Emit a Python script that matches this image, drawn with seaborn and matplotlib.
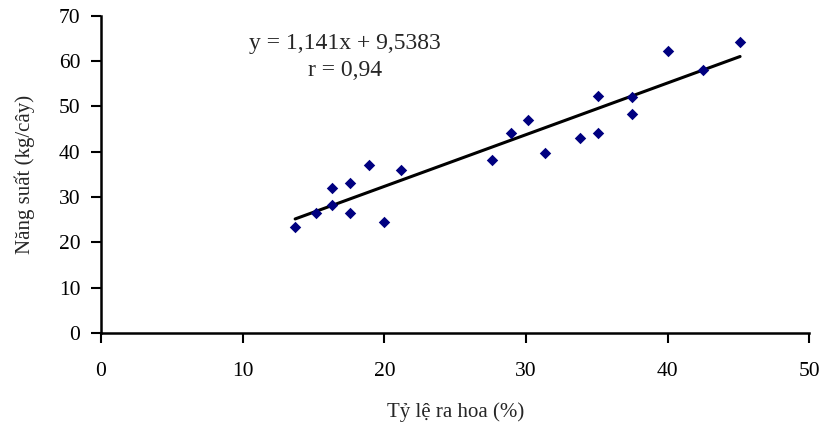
import matplotlib
matplotlib.use("Agg")
import matplotlib.pyplot as plt
import seaborn as sns
import numpy as np
import pandas as pd

# Data
flower_rate = [13.7, 15.2, 16.3, 16.3, 17.6, 17.6, 18.9, 20.0, 21.2,
               27.6, 28.9, 30.1, 31.3, 33.8, 35.1, 35.1, 37.5, 37.5,
               40.0, 42.5, 45.1]
yield_kg = [23.4, 26.5, 32.0, 28.3, 33.1, 26.5, 37.1, 24.5, 36.0,
            38.2, 44.1, 47.0, 39.7, 43.0, 52.3, 44.1, 52.1, 48.3,
            62.2, 58.0, 64.3]
slope = 1.141
intercept = 9.5383
eq_label = "y = 1,141x + 9,5383"
r_label = "r = 0,94"
x_ticks = [0, 10, 20, 30, 40, 50]
y_ticks = [0, 10, 20, 30, 40, 50, 60, 70]
x_title = "Tỷ lệ ra hoa (%)"
y_title = "Năng suất (kg/cây)"

df = pd.DataFrame({"x": flower_rate, "y": yield_kg})
x_line = np.array([min(flower_rate), max(flower_rate)])
line_df = pd.DataFrame({"x": x_line, "y": slope * x_line + intercept})

sns.set_style("ticks")
plt.rcParams['font.family'] = ['Liberation Serif', 'DejaVu Serif']

fig = plt.figure(figsize=(8.24, 4.32), dpi=100)
ax = fig.add_axes([0.1226, 0.229, 0.8598, 0.7347])

sns.lineplot(data=line_df, x="x", y="y", color="black", linewidth=2.2, ax=ax)
sns.scatterplot(data=df, x="x", y="y", marker="D", s=34, color="#000080",
                edgecolor="#000080", linewidth=0, ax=ax, zorder=3)

ax.set_xlim(0, 50)
ax.set_ylim(0, 70)
ax.set_xticks(x_ticks)
ax.set_yticks(y_ticks)
ax.tick_params(axis="both", labelsize=15.5, width=1.5, length=7, color="black",
               labelcolor="black")
ax.tick_params(axis="x", pad=14)
ax.tick_params(axis="y", pad=8)
for sp in ["left", "bottom"]:
    ax.spines[sp].set_linewidth(1.8)
    ax.spines[sp].set_color("black")
for sp in ["top", "right"]:
    ax.spines[sp].set_visible(False)
ax.spines["bottom"].set_zorder(5)

ax.set_xlabel(x_title, fontsize=15, labelpad=15)
ax.set_ylabel(y_title, fontsize=15, labelpad=17)

ax.text(17.2, 63.8, eq_label, ha="center", va="center", fontsize=17)
ax.text(17.2, 57.8, r_label, ha="center", va="center", fontsize=17)

fig.savefig("out.png", dpi=100)
